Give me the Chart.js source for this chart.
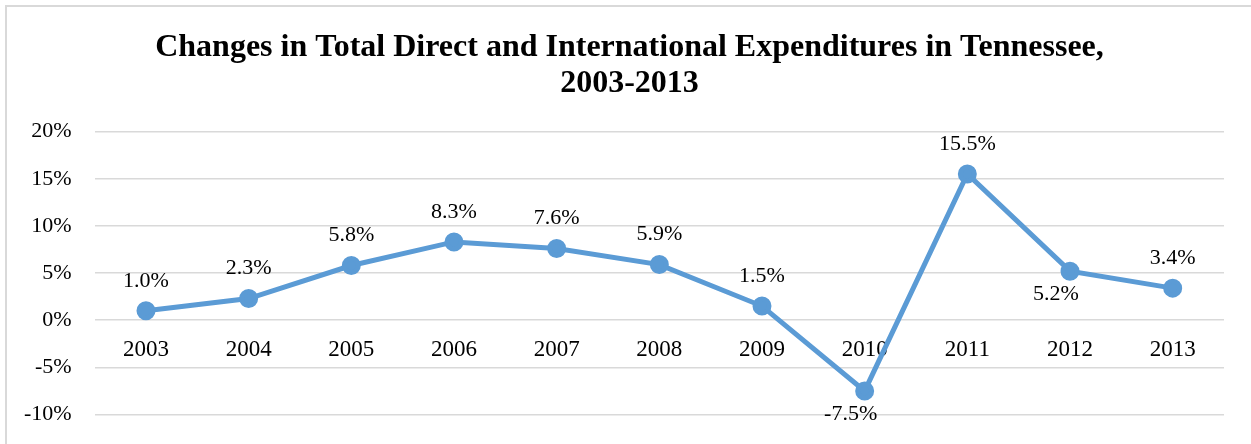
<!DOCTYPE html>
<html>
<head>
<meta charset="utf-8">
<script src="https://cdn.jsdelivr.net/npm/chart.js@4"></script>
<style>
  html, body { margin: 0; padding: 0; background: #fff; overflow: hidden; }
  #frame { position: absolute; left: 5px; top: 5px; width: 1270px; height: 470px; border: 2px solid #d9d9d9; }
  #wrap { position: absolute; left: 0; top: 0; width: 1251px; height: 444px; }
</style>
</head>
<body>
<div id="frame"></div>
<div id="wrap"><canvas id="chart"></canvas></div>
<script>
const years = ["2003", "2004", "2005", "2006", "2007", "2008", "2009", "2010", "2011", "2012", "2013"];
const changePct = [1.0, 2.3, 5.8, 8.3, 7.6, 5.9, 1.5, -7.5, 15.5, 5.2, 3.4];
const labelSide = ["above", "above", "above", "above", "above", "above", "above", "below", "above", "below", "above"];

const serif = "'Liberation Serif', 'Times New Roman', serif";
const blue = "#5B9BD5";

// value labels like Excel's data labels, plus nudge the title a bit right
const pointLabels = {
  id: "pointLabels",
  afterLayout(chart) {
    chart.titleBlock.left += 34;
  },
  afterDatasetsDraw(chart) {
    const ctx = chart.ctx;
    const meta = chart.getDatasetMeta(0);
    ctx.save();
    ctx.font = "22px " + serif;
    ctx.fillStyle = "#000";
    ctx.textAlign = "center";
    ctx.textBaseline = "middle";
    meta.data.forEach((pt, i) => {
      const txt = changePct[i].toFixed(1) + "%";
      let x = pt.x, y = pt.y - 30;
      if (labelSide[i] === "below") {
        y = pt.y + 23;
        x = pt.x - 14;
      }
      ctx.fillText(txt, x, y);
    });
    ctx.restore();
  }
};

new Chart(document.getElementById("chart"), {
  type: "line",
  data: {
    labels: years,
    datasets: [{
      data: changePct,
      borderColor: blue,
      backgroundColor: blue,
      borderWidth: 5,
      pointRadius: 7,
      pointHoverRadius: 7,
      tension: 0
    }]
  },
  options: {
    responsive: true,
    maintainAspectRatio: false,
    animation: false,
    layout: { padding: { left: 1, right: 27, top: 0, bottom: 29.5 } },
    plugins: {
      legend: { display: false },
      tooltip: { enabled: false },
      title: {
        display: true,
        text: ["Changes in Total Direct and International Expenditures in Tennessee,", "2003-2013"],
        color: "#000",
        font: { family: serif, size: 32, weight: "bold", lineHeight: 1.15 },
        padding: { top: 29, bottom: 29 }
      }
    },
    scales: {
      x: {
        offset: true,
        position: { y: 0 },
        grid: { display: false, drawTicks: false, offset: true },
        border: { display: false },
        ticks: { color: "#000", font: { family: serif, size: 23 }, padding: 16, maxRotation: 0 }
      },
      y: {
        min: -10,
        max: 20,
        grid: { color: "#d9d9d9", lineWidth: 1.5, drawTicks: false },
        border: { display: false },
        ticks: {
          stepSize: 5,
          color: "#000",
          font: { family: serif, size: 22 },
          padding: 23,
          callback: v => v + "%"
        },
        afterFit: s => { s.paddingTop = 12; s.paddingBottom = 12; }
      }
    }
  },
  plugins: [pointLabels]
});
</script>
</body>
</html>
